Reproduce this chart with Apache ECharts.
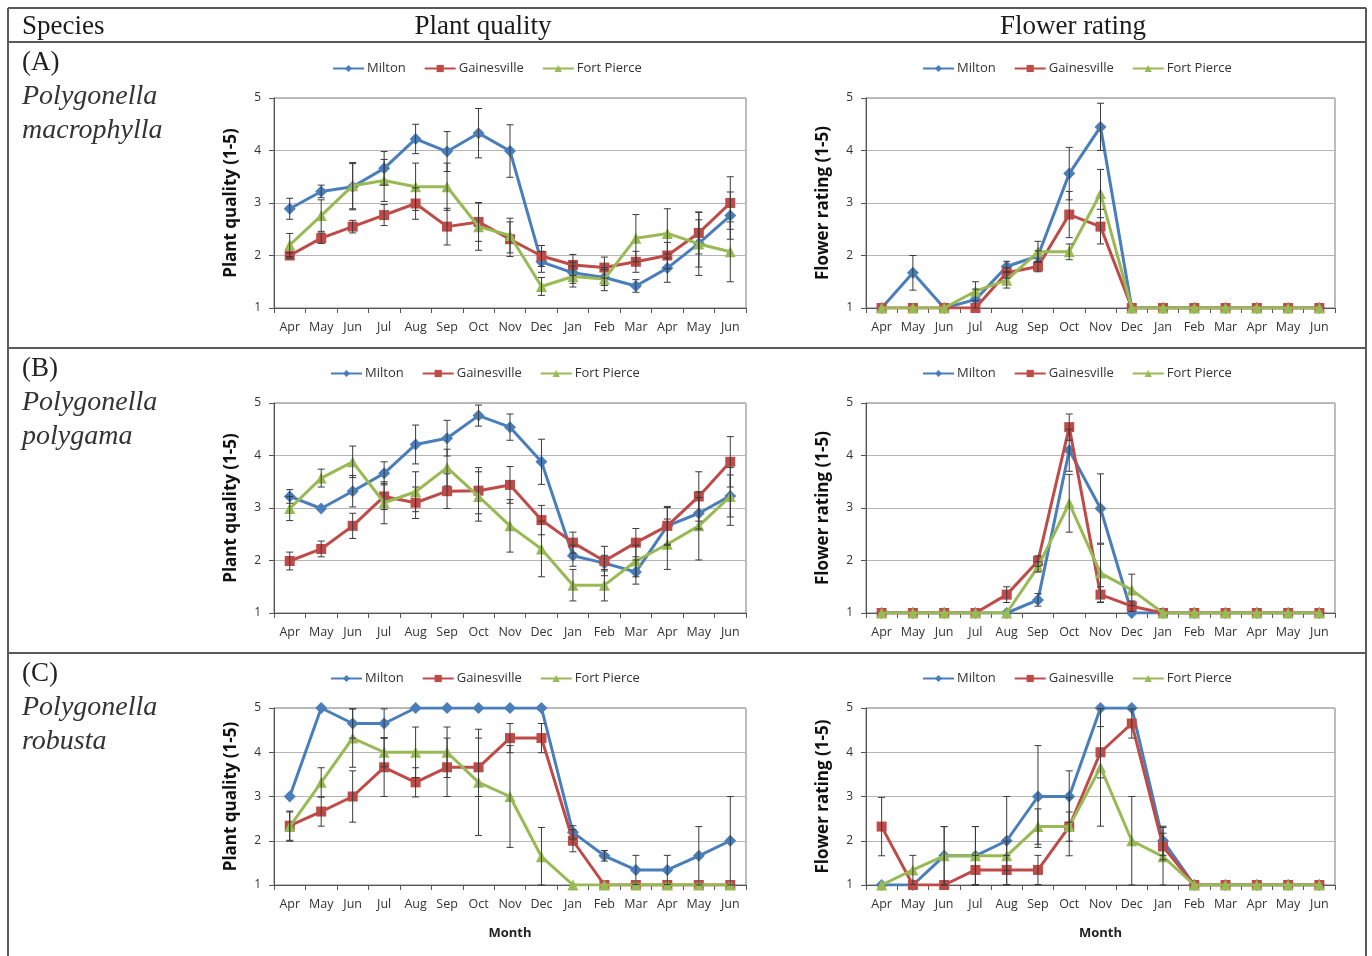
<!DOCTYPE html>
<html>
<head>
<meta charset="utf-8">
<script src="https://cdn.jsdelivr.net/npm/echarts@6/dist/echarts.min.js"></script>
<style>
html,body{margin:0;padding:0;background:#fff;}
#chart{width:1372px;height:956px;}
</style>
</head>
<body>
<div id="chart"></div>
<script>
// ---------- data ----------
const months = ['Apr','May','Jun','Jul','Aug','Sep','Oct','Nov','Dec','Jan','Feb','Mar','Apr','May','Jun'];
const sites = ['Milton','Gainesville','Fort Pierce'];
const yTicks = [1,2,3,4,5];

// (A) Polygonella macrophylla - plant quality
const aQualMilton   = [2.89,3.22,3.31,3.66,4.22,3.98,4.33,3.99,1.88,1.67,1.58,1.42,1.76,2.23,2.76];
const aQualMiltonErr= [0.20,0.12,0.44,0.32,0.28,0.38,0.47,0.50,0.20,0.20,0.15,0.12,0.27,0.45,0.45];
const aQualGaines   = [2.00,2.33,2.55,2.77,2.99,2.55,2.64,2.31,1.99,1.82,1.77,1.88,2.00,2.43,3.00];
const aQualGainesErr= [0.05,0.10,0.12,0.20,0.30,0.35,0.37,0.33,0.20,0.20,0.20,0.20,0.25,0.40,0.50];
const aQualFort     = [2.20,2.76,3.33,3.43,3.31,3.31,2.55,2.38,1.41,1.60,1.55,2.33,2.42,2.22,2.07];
const aQualFortErr  = [0.22,0.30,0.44,0.40,0.45,0.45,0.45,0.33,0.17,0.20,0.22,0.45,0.47,0.60,0.57];
// (A) flower rating
const aFlowMilton   = [1,1.67,1,1.16,1.79,1.99,3.56,4.45,1,1,1,1,1,1,1];
const aFlowMiltonErr= [0,0.33,0,0.20,0.10,0.10,0.50,0.45,0,0,0,0,0,0,0];
const aFlowGaines   = [1,1,1,1,1.67,1.79,2.78,2.55,1,1,1,1,1,1,1];
const aFlowGainesErr= [0,0,0,0,0.10,0.10,0.44,0.33,0,0,0,0,0,0,0];
const aFlowFort     = [1,1,1,1.32,1.53,2.07,2.07,3.18,1,1,1,1,1,1,1];
const aFlowFortErr  = [0,0,0,0.18,0.15,0.20,0.15,0.46,0,0,0,0,0,0,0];

// (B) Polygonella polygama - plant quality
const bQualMilton   = [3.22,2.99,3.32,3.66,4.21,4.33,4.76,4.54,3.88,2.09,1.95,1.78,2.66,2.90,3.23];
const bQualMiltonErr= [0.13,0,0.30,0.22,0.37,0.34,0.20,0.25,0.43,0.20,0.15,0.23,0.35,0.30,0.40];
const bQualGaines   = [1.99,2.22,2.66,3.22,3.10,3.32,3.33,3.44,2.77,2.34,1.99,2.34,2.66,3.22,3.88];
const bQualGainesErr= [0.17,0.15,0.24,0.25,0.30,0.33,0.44,0.35,0.28,0.20,0.28,0.27,0.37,0.47,0.48];
const bQualFort     = [2.99,3.57,3.88,3.10,3.31,3.77,3.22,2.66,2.22,1.53,1.53,1.99,2.31,2.66,3.22];
const bQualFortErr  = [0.23,0.17,0.30,0.40,0.38,0.35,0.47,0.50,0.53,0.30,0.30,0.30,0.48,0.65,0.55];
// (B) flower rating
const bFlowMilton   = [1,1,1,1,1,1.25,4.10,2.99,1,1,1,1,1,1,1];
const bFlowMiltonErr= [0,0,0,0,0,0.12,0.40,0.66,0,0,0,0,0,0,0];
const bFlowGaines   = [1,1,1,1,1.35,1.99,4.54,1.35,1.13,1,1,1,1,1,1];
const bFlowGainesErr= [0,0,0,0,0.15,0.10,0.25,0.15,0.10,0,0,0,0,0,0];
const bFlowFort     = [1,1,1,1,1,1.88,3.09,1.76,1.44,1,1,1,1,1,1];
const bFlowFortErr  = [0,0,0,0,0,0.10,0.55,0.55,0.30,0,0,0,0,0,0];

// (C) Polygonella robusta - plant quality
const cQualMilton   = [3,5,4.65,4.65,5,5,5,5,5,2.19,1.66,1.34,1.34,1.66,2.00];
const cQualMiltonErr= [0,0,0.33,0.33,0,0,0,0,0,0.15,0.12,0.33,0.33,0.66,1.00];
const cQualGaines   = [2.34,2.66,3.00,3.66,3.32,3.66,3.66,4.32,4.32,2.00,1,1,1,1,1];
const cQualGainesErr= [0.33,0.33,0.58,0.66,0.33,0.66,0.66,0.33,0.33,0.25,0,0,0,0,0];
const cQualFort     = [2.32,3.32,4.32,4.00,4.00,4.00,3.32,3.00,1.64,1,1,1,1,1,1];
const cQualFortErr  = [0.33,0.33,0.66,0.33,0.57,0.57,1.20,1.15,0.66,0,0,0,0,0,0];
// (C) flower rating
const cFlowMilton   = [1,1,1.66,1.66,2.00,3.00,3.00,5,5,2.00,1,1,1,1,1];
const cFlowMiltonErr= [0,0,0.66,0.66,1.00,1.15,0.58,0,0,0.33,0,0,0,0,0];
const cFlowGaines   = [2.32,1,1,1.34,1.34,1.34,2.32,4.00,4.65,1.87,1,1,1,1,1];
const cFlowGainesErr= [0.66,0,0,0.33,0.33,0.33,0.33,0.58,0.33,0.30,0,0,0,0,0];
const cFlowFort     = [1,1.34,1.66,1.66,1.66,2.32,2.32,3.66,2.00,1.64,1,1,1,1,1];
const cFlowFortErr  = [0,0.33,0.66,0.66,0.33,0.40,0.66,1.33,1.00,0.66,0,0,0,0,0];

// ---------- layout ----------
const colors = ['#4A7EBB','#BE4B48','#98B954'];
const symbols = ['diamond','rect','triangle'];
const symbolSizes = [12,10,11];
const panels = [
  {grid:{left:274,top:98,width:472,height:210}, yName:'Plant quality (1-5)', legendLeft:327, legendTop:57, month:false,
   vals:[aQualMilton,aQualGaines,aQualFort], errs:[aQualMiltonErr,aQualGainesErr,aQualFortErr]},
  {grid:{left:866,top:98,width:469,height:210}, yName:'Flower rating (1-5)', legendLeft:917, legendTop:57, month:false,
   vals:[aFlowMilton,aFlowGaines,aFlowFort], errs:[aFlowMiltonErr,aFlowGainesErr,aFlowFortErr]},
  {grid:{left:274,top:403,width:472,height:210}, yName:'Plant quality (1-5)', legendLeft:325, legendTop:362, month:false,
   vals:[bQualMilton,bQualGaines,bQualFort], errs:[bQualMiltonErr,bQualGainesErr,bQualFortErr]},
  {grid:{left:866,top:403,width:469,height:210}, yName:'Flower rating (1-5)', legendLeft:917, legendTop:362, month:false,
   vals:[bFlowMilton,bFlowGaines,bFlowFort], errs:[bFlowMiltonErr,bFlowGainesErr,bFlowFortErr]},
  {grid:{left:274,top:708,width:472,height:177}, yName:'Plant quality (1-5)', legendLeft:325, legendTop:667, month:true,
   vals:[cQualMilton,cQualGaines,cQualFort], errs:[cQualMiltonErr,cQualGainesErr,cQualFortErr]},
  {grid:{left:866,top:708,width:469,height:177}, yName:'Flower rating (1-5)', legendLeft:917, legendTop:667, month:true,
   vals:[cFlowMilton,cFlowGaines,cFlowFort], errs:[cFlowMiltonErr,cFlowGainesErr,cFlowFortErr]}
];

const sansFont = '"Open Sans", "Liberation Sans", sans-serif';
const serifFont = '"Liberation Serif", "DejaVu Serif", serif';

function errRender(params, api) {
  const e = api.value(2);
  if (!e) return null;
  const i = api.value(0), v = api.value(1);
  const hi = Math.min(5, v + e), lo = Math.max(1, v - e);
  const t = api.coord([i, hi]), b = api.coord([i, lo]);
  const cap = 3.5;
  const st = {stroke:'#3a3a3a', lineWidth:1};
  return {type:'group', children:[
    {type:'line', shape:{x1:t[0],y1:t[1],x2:b[0],y2:b[1]}, style:st},
    {type:'line', shape:{x1:t[0]-cap,y1:t[1],x2:t[0]+cap,y2:t[1]}, style:st},
    {type:'line', shape:{x1:b[0]-cap,y1:b[1],x2:b[0]+cap,y2:b[1]}, style:st}
  ]};
}

const grid = [], xAxis = [], yAxis = [], series = [], legend = [];
panels.forEach((p, k) => {
  grid.push(Object.assign({show:true, borderColor:'#7a7a7a', borderWidth:1, backgroundColor:'#fff'}, p.grid));
  xAxis.push({
    type:'category', gridIndex:k, data:months, boundaryGap:true,
    axisLine:{lineStyle:{color:'#555', width:1}},
    axisTick:{show:true, length:5, lineStyle:{color:'#555'}},
    axisLabel:{color:'#333', fontSize:12.5, fontFamily:sansFont, margin:13, interval:0},
    name: p.month ? 'Month' : '', nameLocation:'middle', nameGap:42,
    nameTextStyle:{color:'#222', fontSize:13, fontWeight:'bold', fontFamily:sansFont}
  });
  yAxis.push({
    type:'value', gridIndex:k, min:yTicks[0], max:yTicks[yTicks.length-1], interval:1,
    axisLine:{show:true, lineStyle:{color:'#555', width:1}},
    axisTick:{show:true, length:5, lineStyle:{color:'#555'}},
    axisLabel:{color:'#333', fontSize:12, fontFamily:sansFont, margin:13},
    splitLine:{show:true, lineStyle:{color:'#b5b5b5', width:1}},
    name:p.yName, nameLocation:'middle', nameGap:34,
    nameTextStyle:{color:'#111', fontSize:17, fontWeight:'bold', fontFamily:sansFont}
  });
  legend.push({
    left:p.legendLeft, top:p.legendTop, orient:'horizontal', itemGap:18, itemWidth:31, itemHeight:9,
    selectedMode:false,
    textStyle:{color:'#333', fontSize:13, fontFamily:sansFont, padding:[0,0,0,-2]},
    data:sites
  });
  sites.forEach((s, j) => {
    series.push({
      type:'line', name:s, xAxisIndex:k, yAxisIndex:k,
      data:p.vals[j], symbol:symbols[j], symbolSize:symbolSizes[j],
      lineStyle:{color:colors[j], width:3}, itemStyle:{color:colors[j]},
      z:2+j, animation:false, clip:true
    });
  });
  sites.forEach((s, j) => {
    series.push({
      type:'custom', name:s+' error', xAxisIndex:k, yAxisIndex:k,
      renderItem:errRender, encode:{x:0, y:1},
      data:p.vals[j].map((v, i) => [i, v, p.errs[j][i]]),
      z:6, silent:true, animation:false
    });
  });
});

const frame = {stroke:'#5a5a5a', lineWidth:2};
const graphic = [
  {type:'line', shape:{x1:8,y1:8,x2:1366,y2:8}, style:frame},
  {type:'line', shape:{x1:8,y1:8,x2:8,y2:956}, style:frame},
  {type:'line', shape:{x1:1366,y1:8,x2:1366,y2:956}, style:frame},
  {type:'line', shape:{x1:8,y1:42,x2:1366,y2:42}, style:frame},
  {type:'line', shape:{x1:8,y1:348,x2:1366,y2:348}, style:frame},
  {type:'line', shape:{x1:8,y1:653,x2:1366,y2:653}, style:frame},
  {type:'text', x:22, y:27, style:{text:'Species', font:'27px '+serifFont, fill:'#1a1a1a', textVerticalAlign:'middle'}},
  {type:'text', x:483, y:27, style:{text:'Plant quality', font:'27px '+serifFont, fill:'#1a1a1a', textAlign:'center', textVerticalAlign:'middle'}},
  {type:'text', x:1073, y:27, style:{text:'Flower rating', font:'27px '+serifFont, fill:'#1a1a1a', textAlign:'center', textVerticalAlign:'middle'}}
];
const speciesLabels = [
  {y:63, tag:'(A)', l1:'Polygonella', l2:'macrophylla'},
  {y:369, tag:'(B)', l1:'Polygonella', l2:'polygama'},
  {y:674, tag:'(C)', l1:'Polygonella', l2:'robusta'}
];
speciesLabels.forEach(s => {
  graphic.push({type:'text', x:22, y:s.y, style:{text:s.tag, font:'27px '+serifFont, fill:'#222', textVerticalAlign:'middle'}});
  graphic.push({type:'text', x:22, y:s.y+34, style:{text:s.l1, font:'italic 28px '+serifFont, fill:'#333', textVerticalAlign:'middle'}});
  graphic.push({type:'text', x:22, y:s.y+68, style:{text:s.l2, font:'italic 28px '+serifFont, fill:'#333', textVerticalAlign:'middle'}});
});

const chart = echarts.init(document.getElementById('chart'), null, {renderer:'canvas'});
chart.setOption({
  animation:false,
  backgroundColor:'#fff',
  grid, xAxis, yAxis, legend, series, graphic
});
</script>
</body>
</html>
